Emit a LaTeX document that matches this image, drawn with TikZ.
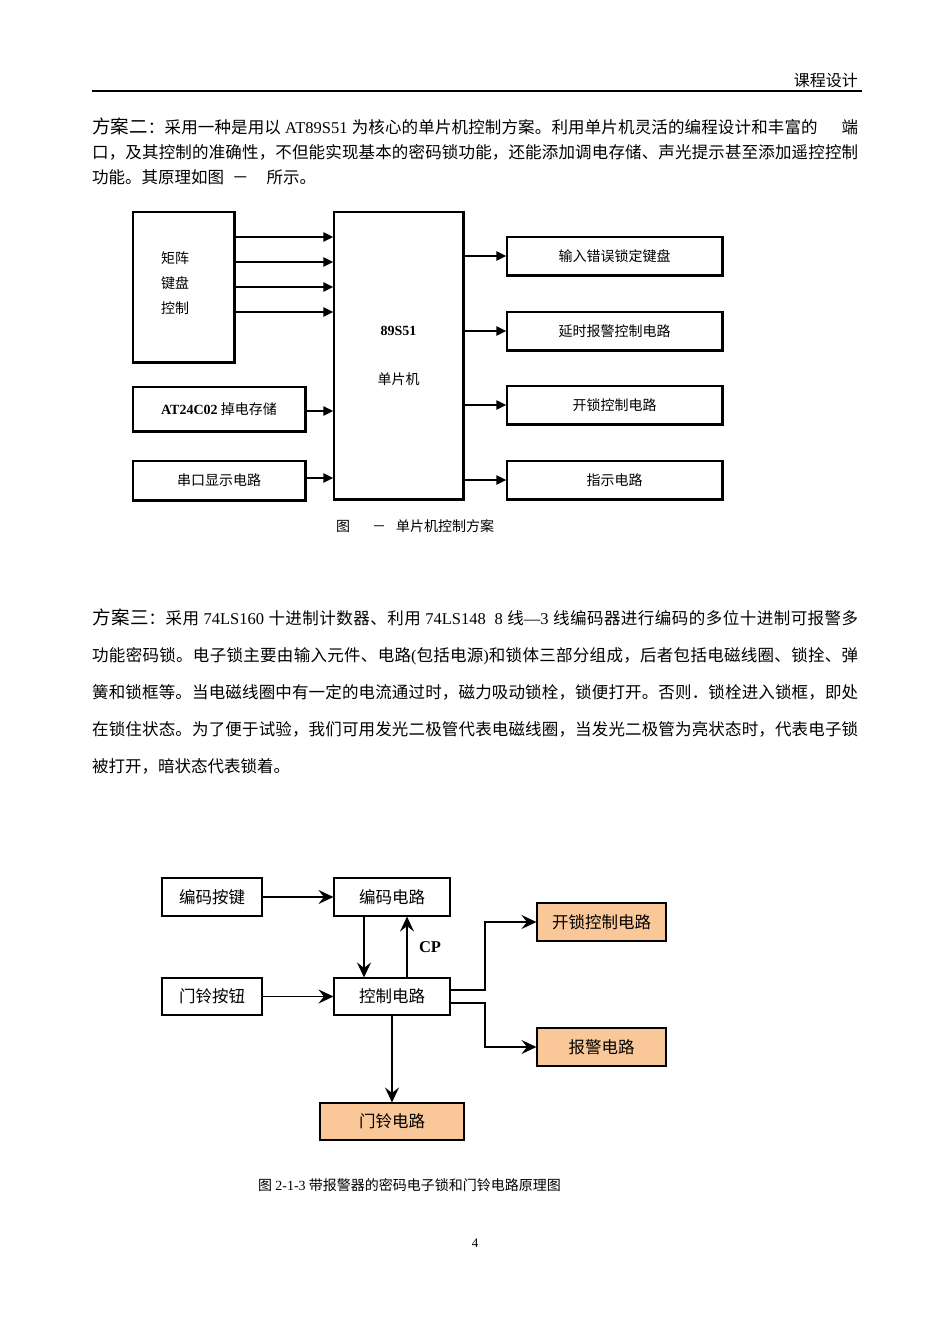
\documentclass[tikz,border=0pt]{standalone}
\usepackage{fontspec}
\usepackage{graphicx}
\setmainfont{Liberation Serif}
\newfontfamily\cjk{Noto Sans CJK SC}
\usetikzlibrary{arrows.meta}
\newcommand\lat[1]{{\rmfamily #1}}
\newcommand\fs[1]{\fontsize{#1}{#1}\selectfont}
\definecolor{peach}{RGB}{250,200,152}
\XeTeXinterchartokenstate=1
\newXeTeXintercharclass\CJKc
\newcount\ccnt
\def\setcls#1#2{\ccnt=#1 \loop\XeTeXcharclass\ccnt=\CJKc\relax\ifnum\ccnt<#2\advance\ccnt by 1\repeat}
\setcls{"3000}{"303F}
\setcls{"4E00}{"9FFF}
\setcls{"FF00}{"FFEF}
\XeTeXinterchartoks\CJKc\CJKc={\hskip 0pt plus 3pt\relax}
\begin{document}
\begin{tikzpicture}[x=1pt,y=-1pt,
  txt/.style={inner sep=0pt, anchor=base west, font=\cjk\fs{16.5}},
  boxA/.style={draw, line width=1.2pt, inner sep=0pt, font=\cjk\fs{14}},
  boxB/.style={draw, line width=1.1pt, inner sep=0pt, font=\cjk\fs{16.5}},
  hot/.style={boxB, fill=peach},
  arrA/.style={line width=2pt, -{Triangle[length=10pt,width=9pt]}},
  arrB/.style={line width=1.6pt, -{Stealth[length=15pt,width=14pt,inset=5.5pt]}},
  edge/.style={line width=1.8pt}
]
\useasboundingbox[fill=white] (0,0) rectangle (950,1344);

% header
\node[inner sep=0pt, anchor=base east, font=\cjk\fs{16}] (hdr) at (858,86) {课程设计};
\draw[line width=1.5pt] (92,91) -- (862,91);

% paragraph 1
\node[txt] (p1a) at (92,133) {\hbox to 766pt{{\fs{18.5}方案二}：采用一种是用以\lat{ AT89S51 }为核心的单片机控制方案。利用单片机灵活的编程设计和丰富的\hspace{24pt}端}};
\node[txt] (p1b) at (92,158) {\hbox to 766pt{口，及其控制的准确性，不但能实现基本的密码锁功能，还能添加调电存储、声光提示甚至添加遥控控制}};
\node[txt] (p1c) at (92,183) {功能。其原理如图\hspace{8pt}－\hspace{18pt}所示。};

% diagram 1
\node[boxA, minimum width=101pt, minimum height=150pt, text width=45pt, inner xsep=28pt, align=flush left, text depth=58pt] (kb) at (183.5,287) {矩阵\\[11pt]键盘\\[11pt]控制};
\node[boxA, minimum width=129pt, minimum height=287pt, align=center] (mcu) at (398.5,355.5) {\lat{\bfseries 89S51}\\[35pt]单片机};
\node[boxA, minimum width=172pt, minimum height=44pt] (at) at (219,409) {\lat{\bfseries AT24C02} 掉电存储};
\node[boxA, minimum width=172pt, minimum height=39pt] (sp) at (219,480.5) {串口显示电路};
\node[boxA, minimum width=215pt, minimum height=38pt] (o1) at (614.5,256) {输入错误锁定键盘};
\node[boxA, minimum width=215pt, minimum height=38pt] (o2) at (614.5,331) {延时报警控制电路};
\node[boxA, minimum width=215pt, minimum height=38pt] (o3) at (614.5,405) {开锁控制电路};
\node[boxA, minimum width=215pt, minimum height=38pt] (o4) at (614.5,480) {指示电路};
\foreach \n in {kb,mcu,at,sp,o1,o2,o3,o4}
  \draw[edge] (\n.north east) -- (\n.south east) -- (\n.south west);
\coordinate (r1) at (0,237);
\coordinate (r2) at (0,262);
\coordinate (r3) at (0,287);
\coordinate (r4) at (0,312);
\foreach \r in {r1,r2,r3,r4}
  \draw[arrA] (kb.east |- \r) -- (mcu.west |- \r);
\coordinate (r5) at (0,411);
\coordinate (r6) at (0,478);
\draw[arrA] (at.east |- r5) -- (mcu.west |- r5);
\draw[arrA] (sp.east |- r6) -- (mcu.west |- r6);
\foreach \o in {o1,o2,o3,o4}
  \draw[arrA] (mcu.east |- \o.west) -- (\o.west);
\node[inner sep=0pt, anchor=base west, font=\cjk\fs{14}] (cap1) at (336,531) {图\hspace{22pt}－\hspace{10pt}单片机控制方案};

% paragraph 2
\node[txt] (p2a) at (92,624.5) {\hbox to 766pt{{\fs{18.5}方案三}：采用\lat{ 74LS160 }十进制计数器、利用\lat{ 74LS148\ \ 8 }线\lat{—3 }线编码器进行编码的多位十进制可报警多}};
\node[txt] (p2b) at (92,661.5) {\hbox to 766pt{功能密码锁。电子锁主要由输入元件、电路\lat{(}包括电源\lat{)}和锁体三部分组成，后者包括电磁线圈、锁拴、弹}};
\node[txt] (p2c) at (92,698.5) {\hbox to 766pt{簧和锁框等。当电磁线圈中有一定的电流通过时，磁力吸动锁栓，锁便打开。否则．锁栓进入锁框，即处}};
\node[txt] (p2d) at (92,735.5) {\hbox to 766pt{在锁住状态。为了便于试验，我们可用发光二极管代表电磁线圈，当发光二极管为亮状态时，代表电子锁}};
\node[txt] (p2e) at (92,772.5) {被打开，暗状态代表锁着。};

% diagram 2
\node[boxB, minimum width=100pt, minimum height=38pt] (eb) at (212,897) {编码按键};
\node[boxB, minimum width=116pt, minimum height=38pt] (ec) at (392,897) {编码电路};
\node[boxB, minimum width=100pt, minimum height=37pt] (db) at (212,996.5) {门铃按钮};
\node[boxB, minimum width=116pt, minimum height=37pt] (cc) at (392,996.5) {控制电路};
\node[hot, minimum width=129pt, minimum height=38pt] (ul) at (601.5,922) {开锁控制电路};
\node[hot, minimum width=129pt, minimum height=38pt] (al) at (601.5,1047) {报警电路};
\node[hot, minimum width=144pt, minimum height=37pt] (bell) at (392,1121.5) {门铃电路};
\foreach \n in {eb,ec,db,cc,ul,al,bell}
  \draw[edge] (\n.north east) -- (\n.south east) -- (\n.south west);
\draw[arrB] (eb.east) -- (ec.west);
\draw[arrB] (db.east) -- (cc.west);
\coordinate (xd) at (364,0);
\coordinate (xu) at (407,0);
\draw[arrB] (ec.south -| xd) -- (cc.north -| xd);
\draw[arrB] (cc.north -| xu) -- (ec.south -| xu);
\node[inner sep=0pt, font=\rmfamily\bfseries\fs{16.5}] (cp) at (430,947) {CP};
\coordinate (ya) at (0,990);
\coordinate (yb) at (0,1003);
\coordinate (xm) at (485,0);
\draw[arrB] (cc.east |- ya) -- (xm |- ya) |- (ul.west);
\draw[arrB] (cc.east |- yb) -- (xm |- yb) |- (al.west);
\draw[arrB] (cc.south) -- (bell.north);
\node[inner sep=0pt, anchor=base west, font=\cjk\fs{14}] (cap2) at (258,1190.5) {图 \lat{2-1-3} 带报警器的密码电子锁和门铃电路原理图};

% page number
\node[inner sep=0pt, font=\rmfamily\fs{13}] (pg) at (475,1243) {4};
\end{tikzpicture}
\end{document}
